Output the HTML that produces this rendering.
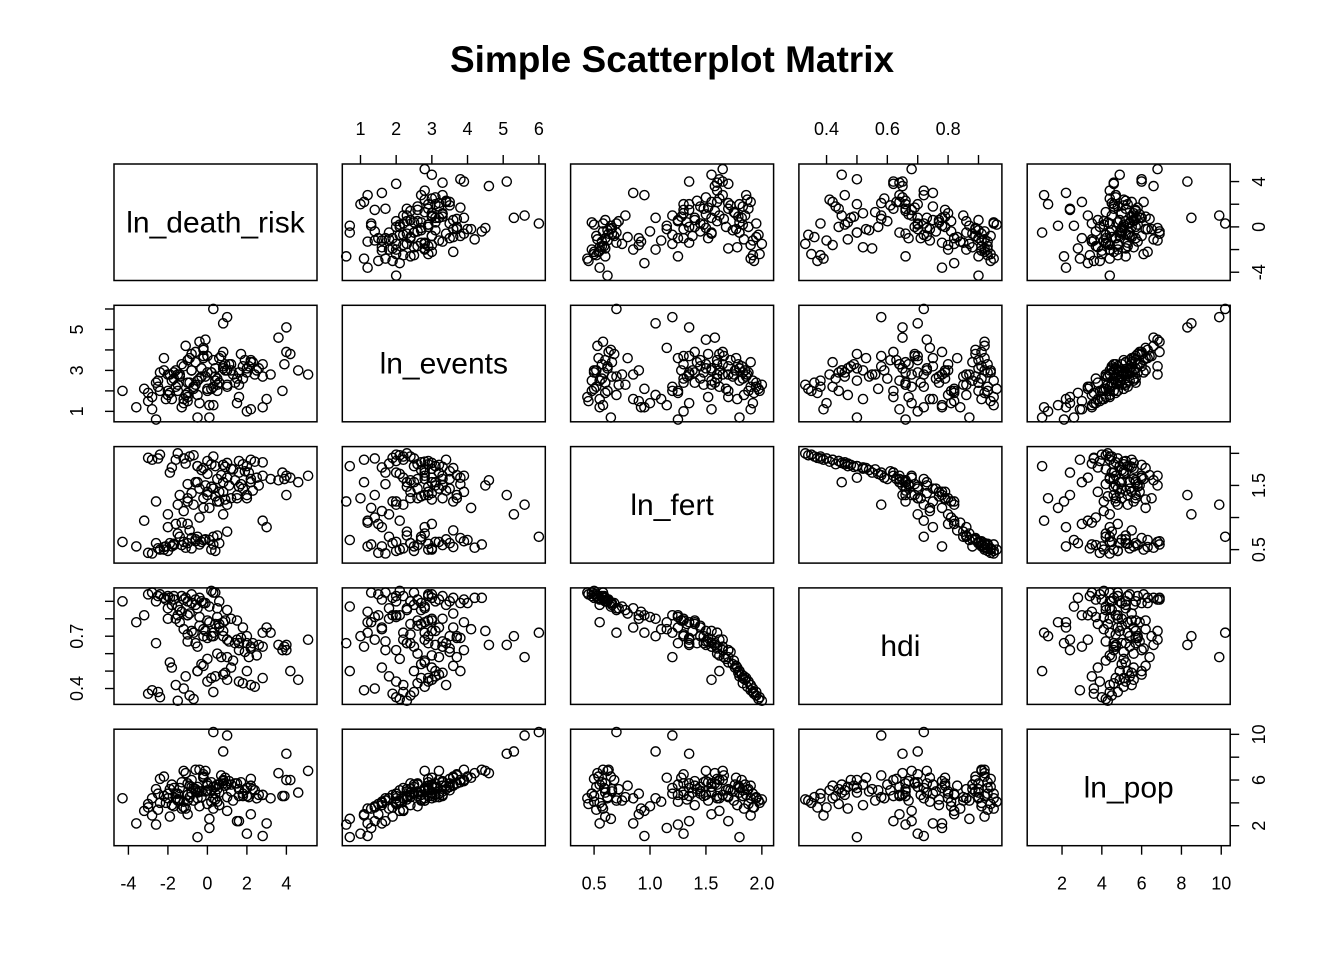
<!DOCTYPE html>
<html><head><meta charset="utf-8"><title>Simple Scatterplot Matrix</title>
<style>html,body{margin:0;padding:0;background:#fff}svg{display:block}text{font-family:"Liberation Sans",Arial,sans-serif;fill:#000}</style>
</head><body>
<svg id="chart" width="1344" height="960" viewBox="0 0 1344 960" xmlns="http://www.w3.org/2000/svg">
<rect width="1344" height="960" fill="#fff"/>
<text x="672" y="72" text-anchor="middle" font-size="37" font-weight="bold">Simple Scatterplot Matrix</text>
<g id="plots"></g>
</svg>
<script>
const varNames = ["ln_death_risk","ln_events","ln_fert","hdi","ln_pop"];
const lnDeathRisk = [
-1.8,-2.2,-0.5,-1.0,-3.0,-2.5,-0.2,-1.5,0.3,-1.2,
-2.0,-0.8,-1.7,-2.8,-0.3,0.5,-1.1,-2.4,-1.9,-0.6,
-1.4,-2.1,-0.9,-3.2,0.1,-1.6,-2.6,-0.4,-1.3,-2.0,
1.2,-0.7,0.8,2.0,-1.0,0.3,1.5,-0.2,2.6,0.6,
-1.5,0.0,1.8,-0.5,3.2,0.9,-1.2,2.3,0.4,-0.1,
1.0,-2.0,0.6,1.4,-0.8,2.8,0.2,-0.4,3.8,1.7,
0.5,2.1,-0.6,1.3,4.0,3.6,0.0,1.9,-1.0,2.5,
1.0,-0.5,2.2,0.3,-1.8,1.6,-2.4,0.8,-1.2,2.8,
-0.9,0.4,-2.8,1.8,-1.5,-0.2,2.4,-3.0,0.9,-0.7,
-1.9,0.0,1.2,-1.1,-2.5,0.7,-0.3,2.0,-1.6,0.2,
0.3,1.0,4.0,0.8,5.1,4.6,4.2,3.9,-4.3,-3.6,
2.8,2.0,1.5,3.0,-0.5,2.2,0.1,1.6,-1.0,-2.6,
-0.8,0.6,-1.3,0.2,-0.1,-2.2,1.0,-0.6,0.4,-1.7,
0.0,-1.0,1.1,0.5,-0.4,2.2,-1.4,0.8,1.6,-0.2];
const lnEvents = [
2.5,3.0,1.8,3.5,1.5,2.2,4.0,2.8,1.3,3.2,
2.0,3.8,2.6,1.7,3.1,2.3,4.2,2.9,1.9,3.4,
2.7,1.6,3.6,2.1,0.7,3.0,2.4,4.4,1.2,2.8,
3.3,2.2,3.9,2.9,1.9,3.5,2.6,4.1,3.1,2.4,
2.0,3.7,3.2,2.5,2.8,3.0,1.6,3.4,2.7,4.5,
2.2,1.8,3.6,2.4,3.0,3.3,2.9,1.4,2.0,3.8,
2.6,3.2,2.3,2.8,3.9,4.6,2.1,3.5,1.7,3.0,
3.0,2.5,3.4,2.2,1.6,2.9,2.0,3.2,1.4,2.7,
2.4,3.1,1.1,2.6,2.3,3.6,2.8,1.9,3.3,2.1,
2.8,2.0,3.0,1.8,2.5,3.7,2.7,3.1,2.2,2.9,
6.0,5.6,5.1,5.3,2.8,3.0,3.8,3.3,2.0,1.2,
1.2,1.0,1.4,1.6,0.7,1.1,1.3,1.7,1.5,0.6,
3.0,2.4,3.3,2.1,2.7,3.6,2.3,3.9,2.5,2.9,
2.9,2.4,3.3,2.0,2.6,3.5,2.8,3.1,2.3,3.7];
const lnFert = [
0.55,0.50,0.70,0.60,0.45,0.52,0.65,0.75,0.58,0.62,
0.48,0.68,0.57,0.44,0.62,0.72,0.53,0.50,0.60,0.66,
0.70,0.55,0.80,0.95,0.65,0.90,0.60,0.58,0.92,0.85,
1.30,1.20,1.40,1.35,1.25,1.45,1.30,1.15,1.50,1.40,
1.20,1.35,1.45,1.55,1.60,1.28,1.10,1.42,1.33,1.50,
1.62,1.05,1.25,1.58,1.38,1.65,1.48,1.00,1.70,1.52,
1.60,1.70,1.55,1.75,1.65,1.58,1.68,1.72,1.52,1.62,
1.85,1.80,1.90,1.95,1.78,1.88,1.98,1.82,1.92,1.86,
1.95,1.80,1.90,1.83,2.00,1.77,1.87,1.93,1.79,1.97,
1.70,1.88,1.76,1.84,1.92,1.66,1.74,1.80,1.90,1.83,
0.70,1.20,1.35,1.05,1.65,1.55,1.62,1.60,0.62,0.55,
0.95,1.30,1.35,0.85,1.80,1.55,1.15,1.70,0.90,1.25,
0.52,0.60,0.57,0.50,0.66,0.54,0.78,0.63,0.48,0.59,
1.40,1.30,1.50,1.25,1.45,1.60,1.35,1.55,1.48,1.30];
const hdi = [
0.88,0.92,0.86,0.90,0.94,0.93,0.89,0.87,0.95,0.91,
0.93,0.89,0.91,0.95,0.90,0.86,0.92,0.94,0.92,0.88,
0.85,0.91,0.83,0.82,0.87,0.80,0.90,0.92,0.84,0.86,
0.80,0.72,0.78,0.66,0.82,0.70,0.79,0.74,0.65,0.77,
0.82,0.69,0.75,0.64,0.72,0.79,0.74,0.66,0.77,0.73,
0.68,0.80,0.75,0.66,0.73,0.64,0.70,0.81,0.62,0.69,
0.60,0.58,0.66,0.56,0.62,0.65,0.57,0.61,0.67,0.59,
0.45,0.50,0.42,0.38,0.52,0.44,0.35,0.48,0.40,0.46,
0.36,0.47,0.39,0.43,0.33,0.53,0.41,0.37,0.49,0.34,
0.55,0.44,0.52,0.47,0.38,0.58,0.54,0.50,0.42,0.46,
0.72,0.58,0.65,0.70,0.68,0.45,0.50,0.64,0.90,0.78,
0.72,0.70,0.68,0.75,0.50,0.64,0.78,0.62,0.82,0.66,
0.94,0.90,0.93,0.96,0.89,0.92,0.85,0.91,0.95,0.93,
0.79,0.71,0.67,0.81,0.76,0.63,0.78,0.73,0.66,0.70];
const lnPop = [
5.6,4.6,4.4,5.7,3.9,3.4,6.3,4.2,3.5,6.8,
4.8,6.0,3.7,4.4,4.5,5.2,6.6,6.1,2.8,5.2,
4.2,4.0,5.5,3.3,2.6,4.8,5.2,6.9,3.5,4.4,
5.0,5.3,5.9,4.6,4.7,5.4,5.7,6.2,4.7,3.8,
4.8,5.7,4.8,5.4,4.4,6.2,4.1,5.2,4.3,6.8,
3.3,4.4,5.6,5.7,4.9,4.7,5.8,3.7,4.6,5.8,
5.6,4.5,5.0,4.2,6.0,6.6,5.1,5.1,4.2,4.4,
5.6,4.9,5.5,4.4,3.8,5.2,4.0,6.0,3.6,4.7,
4.5,5.4,2.9,4.6,4.3,6.2,5.1,3.6,5.5,4.2,
5.2,3.9,5.6,3.5,4.8,6.4,5.0,5.3,4.4,5.1,
10.2,9.9,8.3,8.5,6.8,4.9,6.0,4.6,4.4,2.2,
1.1,1.3,2.4,2.2,1.0,3.0,1.8,2.4,3.0,2.1,
5.4,4.9,5.8,4.1,5.0,6.3,4.5,6.9,4.8,5.3,
5.5,4.7,5.9,4.1,5.0,6.1,5.3,5.7,4.6,6.5];
const deathTicks = [-4,-2,0,2,4];
const deathLabelsBottom = [-4,-2,0,2,4];
const deathLabelsRight = [-4,0,4];
const eventsTicks = [1,2,3,4,5,6];
const eventsLabelsTop = [1,2,3,4,5,6];
const eventsLabelsLeft = [1,3,5];
const fertTicks = [0.5,1.0,1.5,2.0];
const fertLabelsBottom = ["0.5","1.0","1.5","2.0"];
const fertLabelsRight = ["0.5","1.5"];
const hdiTicks = [0.4,0.5,0.6,0.7,0.8,0.9];
const hdiLabelsTop = ["0.4","0.6","0.8"];
const hdiLabelsLeft = ["0.4","0.7"];
const popTicks = [2,4,6,8,10];
const popLabelsBottom = [2,4,6,8,10];
const popLabelsRight = [2,6,10];

const series = [lnDeathRisk, lnEvents, lnFert, hdi, lnPop];
const domains = [[-4.73,5.55],[0.49,6.18],[0.29,2.105],[0.309,0.977],[0.25,10.45]];
const tickSets = [deathTicks, eventsTicks, fertTicks, hdiTicks, popTicks];
const xLabelSets = [deathLabelsBottom, eventsLabelsTop, fertLabelsBottom, hdiLabelsTop, popLabelsBottom];
const yLabelSets = [deathLabelsRight, eventsLabelsLeft, fertLabelsRight, hdiLabelsLeft, popLabelsRight];

const NS = "http://www.w3.org/2000/svg";
const g = document.getElementById("plots");
const colX = i => 114 + 228.3 * i, W = 203;
const rowY = j => 164 + 141.3 * j, H = 116.5;
function sx(v, col) { const d = domains[col]; return colX(col) + (v - d[0]) / (d[1] - d[0]) * W; }
function sy(v, row) { const d = domains[row]; return rowY(row) + H - (v - d[0]) / (d[1] - d[0]) * H; }
function mk(tag, attrs, parent) { const e = document.createElementNS(NS, tag); for (const k in attrs) e.setAttribute(k, attrs[k]); (parent || g).appendChild(e); return e; }

for (let r = 0; r < 5; r++) {
  for (let c = 0; c < 5; c++) {
    const panel = mk("g", {});
    
    
    const box = mk("rect", {x: colX(c), y: rowY(r), width: W, height: H, fill: "none", stroke: "#000", "stroke-width": 1.5}, panel);
    
    
    if (r === c) {
      const t = mk("text", {x: colX(c) + W / 2, y: rowY(r) + H / 2 + 10, "text-anchor": "middle", "font-size": 30}, panel);
      t.textContent = varNames[r];
      
      
    } else {
      const xs = series[c], ys = series[r];
      for (let k = 0; k < xs.length; k++) {
        const p = mk("circle", {cx: sx(xs[k], c), cy: sy(ys[k], r), r: 4.6, fill: "none", stroke: "#000", "stroke-width": 1.4}, panel);
        
        
      }
    }
  }
}
// x axes
for (let c = 0; c < 5; c++) {
  const top = (c % 2 === 1);
  const ax = mk("g", {});
  
  
  const yEdge = top ? rowY(0) : rowY(4) + H;
  const dir = top ? -1 : 1;
  tickSets[c].forEach(t => mk("line", {x1: sx(t, c), x2: sx(t, c), y1: yEdge, y2: yEdge + dir * 9, stroke: "#000", "stroke-width": 1.4}, ax));
  xLabelSets[c].forEach(l => {
    const tx = mk("text", {x: sx(+l, c), y: top ? yEdge - 29 : yEdge + 44, "text-anchor": "middle", "font-size": 18}, ax);
    tx.textContent = l;
    
    
  });
}
// y axes
for (let r = 0; r < 5; r++) {
  const left = (r % 2 === 1);
  const ax = mk("g", {});
  
  
  const xEdge = left ? colX(0) : colX(4) + W;
  const dir = left ? -1 : 1;
  tickSets[r].forEach(t => mk("line", {y1: sy(t, r), y2: sy(t, r), x1: xEdge, x2: xEdge + dir * 9, stroke: "#000", "stroke-width": 1.4}, ax));
  yLabelSets[r].forEach(l => {
    const px = left ? xEdge - 31 : xEdge + 35;
    const py = sy(+l, r);
    const tx = mk("text", {x: px, y: py, "text-anchor": "middle", "font-size": 18, transform: "rotate(-90 " + px + " " + py + ")"}, ax);
    tx.textContent = l;
    
    
  });
}
</script>
</body></html>
